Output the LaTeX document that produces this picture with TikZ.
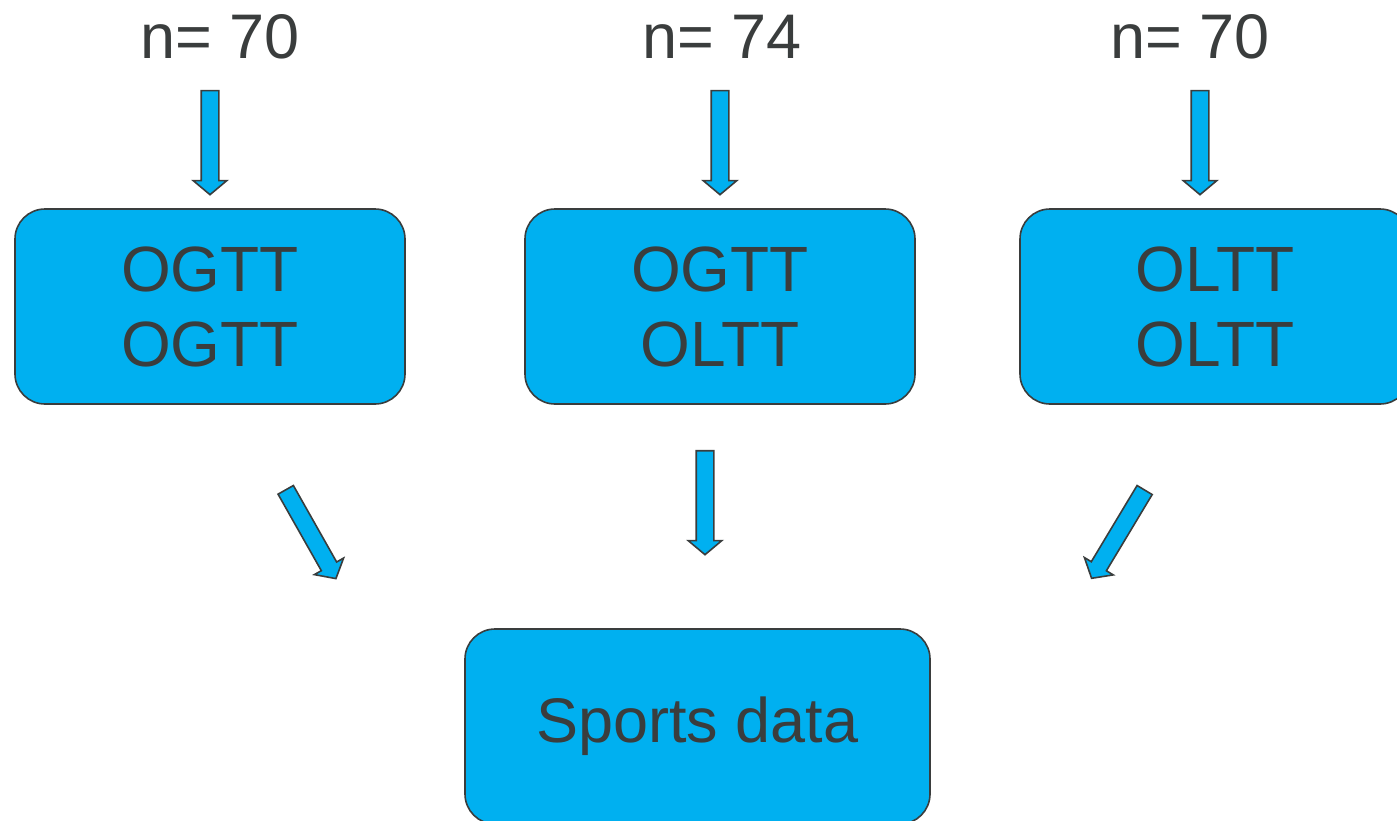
\documentclass[tikz,border=0pt]{standalone}
\usepackage{fontspec}
\setmainfont{Liberation Sans}
\usetikzlibrary{shapes.arrows}
\definecolor{boxblue}{HTML}{00B0F0}
\definecolor{ink}{HTML}{3A3D3D}

\begin{document}
\begin{tikzpicture}[x=1pt, y=-1pt,
	box/.style={rectangle, rounded corners=30pt, draw=ink, line width=1.6pt, fill=boxblue, text=ink, minimum width=390pt, minimum height=195pt, align=center, font=\fontsize{64}{75}\selectfont},
	lbl/.style={text=ink, font=\fontsize{63}{70}\selectfont},
	blk/.style={single arrow, draw=ink, line width=1.6pt, fill=boxblue, inner xsep=0pt, inner ysep=8pt, single arrow head extend=8pt, single arrow tip angle=100, minimum height=104pt}]
	\useasboundingbox (0,0) rectangle (1397,820);

	\node[lbl] (n1) at (220,37) {n= 70};
	\node[lbl] (n2) at (722,37) {n= 74};
	\node[lbl] (n3) at (1190,37) {n= 70};

	\node[blk, rotate=-90] (a1) at (210,139) {};
	\node[blk, rotate=-90] (a2) at (720,139) {};
	\node[blk, rotate=-90] (a3) at (1200,139) {};

	\node[box] (G1) at (210,306.5) {OGTT\\OGTT};
	\node[box] (G2) at (720,306.5) {OGTT\\OLTT};
	\node[box] (G3) at (1215,306.5) {OLTT\\OLTT};

	\node[blk, rotate=-60.5, minimum height=102pt] (b1) at (309,531) {};
	\node[blk, rotate=-90] (b2) at (705,499) {};
	\node[blk, rotate=-121, minimum height=103pt] (b3) at (1120,531) {};

	\node[box, minimum width=465pt, font=\fontsize{63}{75}\selectfont] (S) at (697.5,726.5) {Sports data};
\end{tikzpicture}
\end{document}
